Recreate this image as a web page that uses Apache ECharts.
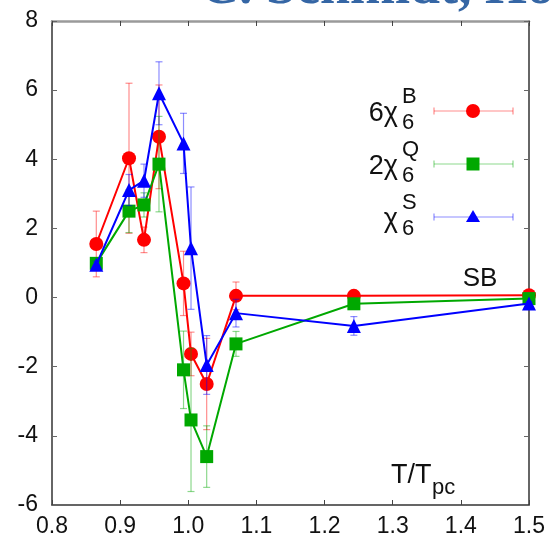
<!DOCTYPE html>
<html>
<head>
<meta charset="utf-8">
<script src="https://cdn.jsdelivr.net/npm/echarts@6/dist/echarts.min.js"></script>
<style>
  html, body { margin: 0; padding: 0; background: #fff; }
  #chart { width: 552px; height: 545px; }
</style>
</head>
<body>
<div id="chart"></div>
<script>
// Sixth-order susceptibilities versus reduced temperature T/T_pc
const temps = [0.865, 0.913, 0.935, 0.957, 0.993, 1.004, 1.027, 1.070, 1.243, 1.500];

const chiB = [1.55, 4.03, 1.67, 4.65, 0.41, -1.63, -2.50, 0.05, 0.05, 0.07];
const chiBErr = [0.95, 2.17, 0.37, 1.50, 0.93, 0.63, 1.32, 0.40, 0.08, 0.05];

const chiQ = [0.99, 2.50, 2.68, 3.86, -2.09, -3.54, -4.60, -1.34, -0.18, -0.03];
const chiQErr = [0.15, 0.62, 0.35, 1.38, 1.12, 2.07, 0.89, 0.36, 0.10, 0.05];

const chiS = [0.95, 3.11, 3.38, 5.91, 4.46, 1.43, -1.95, -0.45, -0.82, -0.17];
const chiSErr = [0.10, 0.45, 0.48, 0.91, 0.87, 1.77, 0.85, 0.40, 0.27, 0.05];

const xTicks = [0.8, 0.9, 1.0, 1.1, 1.2, 1.3, 1.4, 1.5];
const yTicks = [-6, -4, -2, 0, 2, 4, 6, 8];

const seriesDefs = [
  { name: '6χB', ys: chiB, errs: chiBErr, color: '#ff0000', bar: 'rgba(255,0,0,0.45)', symbol: 'circle', size: 14 },
  { name: '2χQ', ys: chiQ, errs: chiQErr, color: '#00a800', bar: 'rgba(0,168,0,0.45)', symbol: 'rect', size: 13 },
  { name: 'χS',  ys: chiS, errs: chiSErr, color: '#0000ff', bar: 'rgba(0,0,255,0.45)', symbol: 'triangle', size: 14 }
];

const chart = echarts.init(document.getElementById('chart'), null, { renderer: 'canvas' });

function errorBarRenderer(color) {
  return function (params, api) {
    const x = api.value(0), y = api.value(1), e = api.value(2);
    const top = api.coord([x, y + e]);
    const bot = api.coord([x, y - e]);
    const hw = 3.5;
    const st = { stroke: color, lineWidth: 1.2 };
    return {
      type: 'group',
      children: [
        { type: 'line', shape: { x1: top[0], y1: top[1], x2: bot[0], y2: bot[1] }, style: st },
        { type: 'line', shape: { x1: top[0] - hw, y1: top[1], x2: top[0] + hw, y2: top[1] }, style: st },
        { type: 'line', shape: { x1: bot[0] - hw, y1: bot[1], x2: bot[0] + hw, y2: bot[1] }, style: st }
      ]
    };
  };
}

const series = [];
seriesDefs.forEach((d, i) => {
  series.push({
    type: 'custom',
    name: d.name + ' err',
    renderItem: errorBarRenderer(d.bar),
    data: temps.map((t, k) => [t, d.ys[k], d.errs[k]]),
    z: 2 + i * 2,
    silent: true,
    clip: false
  });
  series.push({
    type: 'line',
    name: d.name,
    data: temps.map((t, k) => [t, d.ys[k]]),
    symbol: d.symbol,
    symbolSize: d.size,
    showAllSymbol: true,
    lineStyle: { color: d.color, width: 2 },
    itemStyle: { color: d.color },
    z: 3 + i * 2,
    animation: false
  });
});

// Legend drawn as error-bar samples with super/subscripted labels
const legendRows = [
  { main: '6χ', sup: 'B', cy: 111 },
  { main: '2χ', sup: 'Q', cy: 164 },
  { main: 'χ',  sup: 'S', cy: 217 }
];
const graphics = [];
const labelFont = '"Liberation Sans", Arial, sans-serif';
legendRows.forEach((r, i) => {
  const d = seriesDefs[i];
  graphics.push({ type: 'text', x: 398, y: r.cy + 3, style: { text: r.main, font: '27px ' + labelFont, fill: '#111', align: 'right', verticalAlign: 'middle' } });
  graphics.push({ type: 'text', x: 402, y: r.cy - 14, style: { text: r.sup, font: '22px ' + labelFont, fill: '#111', align: 'left', verticalAlign: 'middle' } });
  graphics.push({ type: 'text', x: 402, y: r.cy + 12, style: { text: '6', font: '22px ' + labelFont, fill: '#111', align: 'left', verticalAlign: 'middle' } });
  const ls = { stroke: d.bar, lineWidth: 1.2 };
  graphics.push({ type: 'line', shape: { x1: 434, y1: r.cy, x2: 513, y2: r.cy }, style: ls });
  graphics.push({ type: 'line', shape: { x1: 434, y1: r.cy - 3.5, x2: 434, y2: r.cy + 3.5 }, style: ls });
  graphics.push({ type: 'line', shape: { x1: 513, y1: r.cy - 3.5, x2: 513, y2: r.cy + 3.5 }, style: ls });
  if (d.symbol === 'circle') {
    graphics.push({ type: 'circle', shape: { cx: 473, cy: r.cy, r: 7 }, style: { fill: d.color } });
  } else if (d.symbol === 'rect') {
    graphics.push({ type: 'rect', shape: { x: 466.5, y: r.cy - 6.5, width: 13, height: 13 }, style: { fill: d.color } });
  } else {
    graphics.push({ type: 'polygon', shape: { points: [[473, r.cy - 7], [480, r.cy + 5], [466, r.cy + 5]] }, style: { fill: d.color } });
  }
});
graphics.push({ type: 'text', x: 480, y: 279, style: { text: 'SB', font: '26px ' + labelFont, fill: '#111', align: 'center', verticalAlign: 'middle' } });
graphics.push({ type: 'text', x: 391, y: 476, style: { text: 'T/T', font: '27px ' + labelFont, fill: '#111', align: 'left', verticalAlign: 'middle' } });
graphics.push({ type: 'text', x: 432, y: 488, style: { text: 'pc', font: '22px ' + labelFont, fill: '#111', align: 'left', verticalAlign: 'middle' } });
// Header line of the slide, mostly above the canvas edge
graphics.push({ type: 'text', x: 200, y: 16, z: 0, style: { text: 'C. Schmidt, Hot', font: 'bold 54px "Liberation Serif", "DejaVu Serif", serif', fill: '#3566a5', align: 'left', verticalAlign: 'bottom' } });

const axisText = { fontSize: 23, color: '#111', fontFamily: labelFont };

const option = {
  animation: false,
  backgroundColor: '#ffffff',
  grid: { left: 52, right: 23, top: 21, bottom: 40, containLabel: false },
  xAxis: [
    {
      type: 'value', min: 0.8, max: 1.5, interval: 0.1, position: 'bottom',
      axisLine: { show: true, onZero: false, lineStyle: { color: '#333', width: 1.5 } },
      axisTick: { show: true, inside: true, length: 5, lineStyle: { color: '#444' } },
      axisLabel: { margin: 10, formatter: v => {
        const t = xTicks.find(k => Math.abs(k - v) < 1e-6);
        return t !== undefined ? t.toFixed(1) : '';
      }, ...axisText },
      splitLine: { show: false }
    },
    {
      type: 'value', min: 0.8, max: 1.5, interval: 0.1, position: 'top',
      axisLine: { show: true, onZero: false, lineStyle: { color: '#9a9a9a', width: 2.5 } },
      axisTick: { show: true, inside: true, length: 5, lineStyle: { color: '#444' } },
      axisLabel: { show: false },
      splitLine: { show: false }
    }
  ],
  yAxis: [
    {
      type: 'value', min: -6, max: 8, interval: 2, position: 'left',
      axisLine: { show: true, onZero: false, lineStyle: { color: '#333', width: 1.5 } },
      axisTick: { show: true, inside: true, length: 5, lineStyle: { color: '#666' } },
      axisLabel: { margin: 14, formatter: v => {
        const t = yTicks.find(k => Math.abs(k - v) < 1e-6);
        return t !== undefined ? String(t) : '';
      }, ...axisText },
      splitLine: { show: false }
    },
    {
      type: 'value', min: -6, max: 8, interval: 2, position: 'right',
      axisLine: { show: true, onZero: false, lineStyle: { color: '#333', width: 1.5 } },
      axisTick: { show: true, inside: true, length: 5, lineStyle: { color: '#666' } },
      axisLabel: { show: false },
      splitLine: { show: false }
    }
  ],
  series: series,
  graphic: graphics
};

chart.setOption(option);
</script>
</body>
</html>
